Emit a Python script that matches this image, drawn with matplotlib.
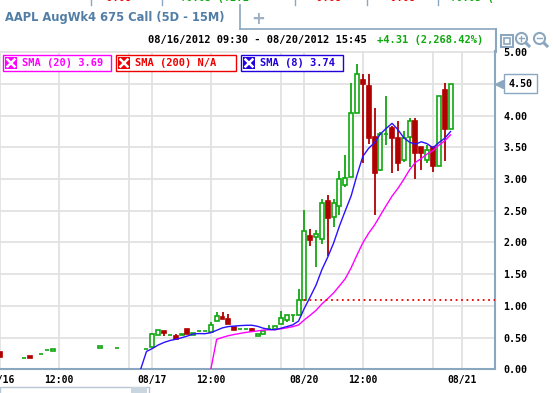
import matplotlib
matplotlib.use("Agg")
import matplotlib.pyplot as plt
import matplotlib.transforms as mtrans
import pandas as pd
from matplotlib.patches import Rectangle
from matplotlib.lines import Line2D

# 15 minute bars, 26 bars per session (index 0 = 08/16 09:30)
bar_idx = [0, 4, 5, 7, 8, 9, 17, 20, 25,
           26, 27, 28, 29, 30, 31, 32, 33, 34, 35, 36, 37, 38, 39, 40, 41, 42, 43,
           44, 45, 46, 47, 48, 49, 50, 51,
           52, 53, 54, 55, 56, 57, 58, 59, 60, 61, 62, 63, 64, 65, 66, 67, 68, 69,
           70, 71, 72, 73, 74, 75, 76, 77]
opens = [0.27, 0.18, 0.21, 0.24, 0.30, 0.29, 0.34, 0.34, 0.32,
         0.35, 0.54, 0.60, 0.54, 0.53, 0.54, 0.64, 0.54, 0.60, 0.60, 0.59, 0.76, 0.82, 0.80, 0.67, 0.64, 0.64, 0.63,
         0.53, 0.55, 0.64, 0.64, 0.71, 0.78, 0.85, 0.85,
         1.09, 2.11, 2.08, 2.05, 2.65, 2.40, 2.58, 2.90, 3.03, 4.05, 4.56, 4.47, 3.66, 3.15, 3.71, 3.81, 3.65, 3.30,
         3.66, 3.92, 3.50, 3.30, 3.51, 3.20, 4.41, 3.79]
highs = [0.27, 0.18, 0.21, 0.24, 0.30, 0.32, 0.37, 0.34, 0.32,
         0.57, 0.62, 0.60, 0.54, 0.55, 0.56, 0.64, 0.58, 0.60, 0.60, 0.75, 0.90, 0.90, 0.88, 0.67, 0.64, 0.64, 0.65,
         0.56, 0.60, 0.70, 0.68, 0.92, 0.85, 0.85, 1.26,
         2.51, 2.21, 2.20, 2.69, 2.75, 2.69, 3.12, 3.38, 4.51, 4.82, 4.66, 4.66, 4.12, 3.75, 4.31, 3.83, 3.92, 3.76,
         3.96, 3.96, 3.50, 3.54, 3.51, 4.31, 4.52, 4.50]
lows = [0.19, 0.18, 0.18, 0.24, 0.30, 0.29, 0.33, 0.34, 0.32,
        0.35, 0.54, 0.53, 0.54, 0.48, 0.54, 0.56, 0.54, 0.60, 0.60, 0.59, 0.76, 0.79, 0.72, 0.62, 0.64, 0.64, 0.61,
        0.53, 0.55, 0.64, 0.64, 0.71, 0.75, 0.75, 0.85,
        1.09, 1.95, 1.62, 1.97, 1.78, 2.25, 2.44, 2.88, 3.03, 4.05, 3.25, 3.55, 2.43, 3.12, 3.54, 3.10, 3.12, 3.27,
        3.19, 3.00, 3.15, 3.25, 3.11, 3.20, 3.29, 3.79]
closes = [0.19, 0.18, 0.18, 0.24, 0.30, 0.32, 0.37, 0.34, 0.32,
          0.55, 0.62, 0.57, 0.54, 0.48, 0.56, 0.56, 0.58, 0.60, 0.60, 0.70, 0.84, 0.79, 0.72, 0.62, 0.64, 0.64, 0.61,
          0.56, 0.60, 0.64, 0.68, 0.81, 0.85, 0.85, 1.09,
          2.18, 2.04, 2.13, 2.63, 2.39, 2.62, 3.00, 3.02, 4.05, 4.66, 4.50, 3.65, 3.10, 3.71, 3.71, 3.65, 3.25, 3.65,
          3.92, 3.41, 3.41, 3.46, 3.20, 4.31, 3.79, 4.50]

tick_pos = [0, 10, 26, 36, 52, 62, 79]
tick_labels = ["08/16", "12:00", "08/17", "12:00", "08/20", "12:00", "08/21"]
grid_x = [0, 10, 22, 26, 36, 48, 52, 62, 74, 79]
price_ticks = [0.0, 0.5, 1.0, 1.5, 2.0, 2.5, 3.0, 3.5, 4.0, 4.5, 5.0]
price_labels = ["0.00", "0.50", "1.00", "1.50", "2.00", "2.50", "3.00", "3.50", "4.00", "", "5.00"]
prev_close = 1.09
prev_close_from = 52
last_price = 4.50

GREEN = "#10a810"
RED = "#b00000"
BLUE = "#2a10ff"
MAGENTA = "#ff00ff"
STEEL = "#8ba7bf"
GRID = "#e2e2e2"

W, H = 553, 393
fig = plt.figure(figsize=(W / 100, H / 100), dpi=100)
fig.patch.set_facecolor("white")


def fp(x, y):
    # pixel position -> figure fraction
    return x / W, 1 - y / H


def fline(xs, ys, **kw):
    fig.lines.append(Line2D([x / W for x in xs], [1 - y / H for y in ys],
                            transform=fig.transFigure, **kw))


ax_bottom, ax_top, ax_right = 369.3, 51, 495
ax = fig.add_axes([0, (H - ax_bottom) / H, ax_right / W, (ax_bottom - ax_top) / H])
ax.set_xlim(-0.05, 84.6)
ax.set_ylim(0, 5.02)

for s in ["top", "left"]:
    ax.spines[s].set_visible(False)
ax.spines["bottom"].set_color(STEEL)
ax.spines["bottom"].set_linewidth(1.5)
ax.spines["right"].set_color(STEEL)
ax.spines["right"].set_linewidth(1.5)

for g in grid_x:
    ax.axvline(g, color=GRID, lw=1.3, zorder=0)
for p in price_ticks[1:]:
    ax.axhline(p, color=GRID, lw=1.3, zorder=0)

# candles
for i, o, h, l, c in zip(bar_idx, opens, highs, lows, closes):
    up = c >= o
    col = GREEN if up else RED
    ax.vlines(i, l, h, color=col, lw=1.3, zorder=2)
    ax.bar(i, abs(c - o), bottom=min(o, c), width=0.68,
           facecolor="white" if up else RED, edgecolor=col, lw=1.2, zorder=3)

# moving averages (first bar belongs to the session before)
close_s = pd.Series(closes, index=bar_idx).iloc[1:]
for n, col in [(20, MAGENTA), (8, BLUE)]:
    sma = close_s.rolling(n).mean().dropna()
    xs = [sma.index[0] - 1] + list(sma.index)
    ys = [0] + list(sma.values)
    ax.plot(xs, ys, color=col, lw=1.0, zorder=4)

ax.plot([prev_close_from, 84.6], [prev_close, prev_close], color="#ee0000",
        lw=1.3, linestyle=(0, (1, 2)), zorder=4)

ax.set_xticks(tick_pos)
ax.set_xticklabels(tick_labels, fontfamily="DejaVu Sans Mono", fontweight="bold", fontsize=7)
ax.set_yticks(price_ticks)
ax.set_yticklabels(price_labels, fontfamily="DejaVu Sans Mono", fontweight="bold", fontsize=7.2)
ax.yaxis.tick_right()
ax.tick_params(axis="x", length=0, pad=4)
ax.tick_params(axis="y", length=0, pad=6)

# last price marker
blend = mtrans.blended_transform_factory(ax.transAxes, ax.transData)
ax.annotate(f"{last_price:.2f}", xy=(1, last_price), xycoords=("axes fraction", "data"),
            xytext=(10, 0), textcoords="offset points", ha="left", va="center",
            fontfamily="DejaVu Sans Mono", fontweight="bold", fontsize=7.2,
            bbox=dict(boxstyle="square,pad=0.45", fc="white", ec=STEEL, lw=1),
            annotation_clip=False)
ax.plot([1.008], [last_price], marker="<", ms=6, color=STEEL, transform=blend, clip_on=False)

# legend boxes
legend_items = [(3, 111, "SMA (20) 3.69", MAGENTA), (116, 236, "SMA (200) N/A", "#ee0000"),
                (241, 343, "SMA (8) 3.74", "#2200dd")]
for x0, x1, txt, col in legend_items:
    fig.patches.append(Rectangle(fp(x0, 71), (x1 - x0) / W, 16 / H, transform=fig.transFigure,
                                 fc="white", ec=col, lw=1, zorder=5))
    fig.patches.append(Rectangle(fp(x0 + 2, 68.5), 12 / W, 11.5 / H, transform=fig.transFigure,
                                 fc=col, ec="none", zorder=6))
    fline([x0 + 4.5, x0 + 11.5], [59.5, 66.5], color="white", lw=1.8, zorder=7)
    fline([x0 + 4.5, x0 + 11.5], [66.5, 59.5], color="white", lw=1.8, zorder=7)
    fig.text(*fp(x0 + 19, 63.5), txt, color=col, fontfamily="DejaVu Sans Mono",
             fontweight="bold", fontsize=7.5, va="center", ha="left", zorder=7)

# header
fig.text(*fp(148, 40), "08/16/2012 09:30 - 08/20/2012 15:45", fontfamily="DejaVu Sans Mono",
         fontweight="bold", fontsize=7.5, va="center", ha="left")
fig.text(*fp(377, 40), "+4.31 (2,268.42%)", color=GREEN, fontfamily="DejaVu Sans Mono",
         fontweight="bold", fontsize=7.5, va="center", ha="left")

# tab and panel frame
fig.text(*fp(5, 18), "AAPL AugWk4 675 Call (5D - 15M)", color="#527ea6",
         fontweight="bold", fontsize=8.3, va="center", ha="left")
fig.text(*fp(258, 19), "+", color="#9db1c3", fontweight="bold", fontsize=12, va="center", ha="center")
fline([240, 240], [5, 29], color=STEEL, lw=1.2)
fline([240, 496], [29, 29], color=STEEL, lw=1.2)
fline([495.5, 495.5], [29, 52], color=STEEL, lw=1.5)

# cut-off row above the tab
for x in [91, 162, 295, 367, 438]:
    fline([x, x], [0, 5], color=STEEL, lw=1)
for x, txt, col in [(100, "-0.08", "#ee0000"), (180, "+0.05 (+2.1", GREEN), (310, "-0.08", "#ee0000"),
                    (385, "-0.08", "#ee0000"), (450, "+0.05 (", GREEN)]:
    fig.text(*fp(x, -2), txt, color=col, fontfamily="DejaVu Sans Mono", fontweight="bold",
             fontsize=7.5, va="center", ha="left")

# toolbar icons: fit-to-screen, zoom in, zoom out
fig.patches.append(Rectangle(fp(501, 47), 12 / W, 12 / H, transform=fig.transFigure, fc="white", ec=STEEL, lw=1.5))
fig.patches.append(Rectangle(fp(504, 44), 6 / W, 6 / H, transform=fig.transFigure, fc="none", ec=STEEL, lw=1.2))
for cx, minus in [(521, False), (539, True)]:
    fline([cx + 3, cx + 8], [41, 46], color=STEEL, lw=2.2)
    fline([cx], [38], marker="o", ms=8, mfc="white", mec=STEEL, mew=1.5, ls="none")
    fline([cx - 2.5, cx + 2.5], [38, 38], color=STEEL, lw=1)
    if not minus:
        fline([cx, cx], [35.5, 40.5], color=STEEL, lw=1)

# scrollbar at the bottom
fig.patches.append(Rectangle(fp(0, 396), 149 / W, 9 / H, transform=fig.transFigure, fc="white", ec="#b8c6d2", lw=1))
fig.patches.append(Rectangle(fp(131, 396), 16 / W, 9 / H, transform=fig.transFigure, fc="#c9d5df", ec="none"))

fig.savefig("out.png", dpi=100)
